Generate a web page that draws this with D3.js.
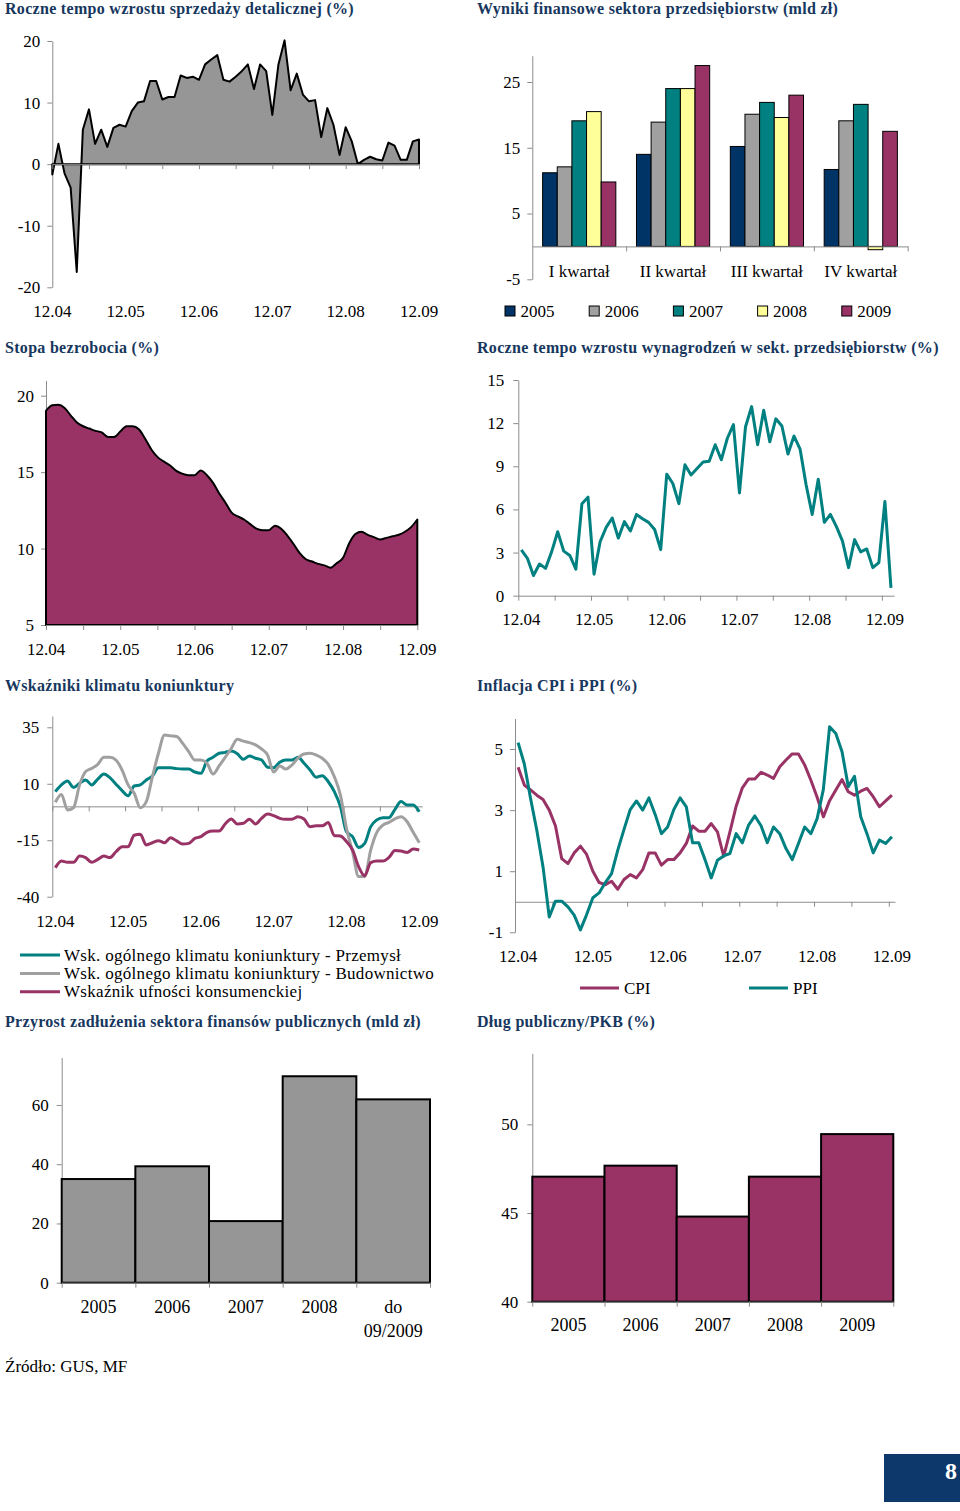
<!DOCTYPE html>
<html><head><meta charset="utf-8">
<script src="https://cdn.jsdelivr.net/npm/d3@7"></script>
<style>
body{margin:0;background:#fff;}
svg text{font-family:"Liberation Serif","Times New Roman",serif;}
</style></head><body>
<svg id="c" width="960" height="1511"></svg>
<script>
// ---------------- DATA ----------------
const monthLabels = ["12.04","12.05","12.06","12.07","12.08","12.09"];

const retailSales = [-1.7,3.3,-1.5,-3.8,-17.5,5.6,8.9,3.3,5.6,2.8,5.9,6.4,6.1,8.6,10,10.2,13.5,13.5,10.5,10.9,10.9,14.4,14,14.2,13.7,16.2,17,17.7,13.7,13.4,14.2,15.1,16.2,12.2,16.2,15.1,8,16.2,20.1,12,14.7,11.3,10.2,10.4,4.4,9.1,6.4,1.5,6,3.7,0,0.7,1.2,0.8,0.6,3.5,3,0.7,0.7,3.7,4];
const retailTicks = [-20,-10,0,10,20];

const finQuarters = ["I kwartał","II kwartał","III kwartał","IV kwartał"];
const finYears = ["2005","2006","2007","2008","2009"];
const fin2005 = [11.2,14.0,15.2,11.7];
const fin2006 = [12.1,18.9,20.1,19.1];
const fin2007 = [19.1,24.0,21.9,21.6];
const fin2008 = [20.5,24.0,19.6,-0.5];
const fin2009 = [9.8,27.5,23.0,17.5];
const finTicks = [-5,5,15,25];

const unemployment = [19.0,19.37,19.4,19.2,18.7,18.25,18.0,17.85,17.7,17.6,17.3,17.3,17.65,18.0,18.0,17.8,17.2,16.5,16.0,15.7,15.45,15.1,14.9,14.8,14.8,15.1,14.8,14.3,13.6,13.0,12.35,12.1,11.9,11.6,11.3,11.2,11.2,11.5,11.3,10.85,10.3,9.7,9.3,9.15,9.0,8.9,8.75,9.05,9.4,10.35,10.95,11.1,10.9,10.75,10.6,10.7,10.8,10.9,11.1,11.4,11.9];
const unemploymentTicks = [5,10,15,20];

const wages = [3.18,2.6,1.4,2.2,1.9,3.05,4.45,3.1,2.8,1.85,6.4,6.85,1.5,3.75,4.75,5.4,4.0,5.15,4.5,5.65,5.35,5.1,4.6,3.2,8.45,7.8,6.4,9.1,8.4,8.85,9.3,9.35,10.5,9.45,10.95,11.9,7.15,11.75,13.15,10.5,12.9,10.7,12.3,11.8,9.85,11.1,10.2,7.7,5.65,8.1,5.1,5.65,4.8,3.8,1.95,3.9,3.05,3.25,1.95,2.3,6.55,0.55];
const wagesTicks = [0,3,6,9,12,15];

const climateIndustry = [6.5,9.5,11.2,8.4,10.2,11.7,9.5,12.1,14.3,12.7,9.8,7.0,4.7,9.0,9.5,11.7,13.4,17.1,17.1,17.1,16.7,16.5,16.5,15.2,14.6,20.1,21.7,23.5,23.9,24.5,23.3,20.8,22.3,21.3,20.5,17.3,17.1,19.5,20.5,20.5,21.7,19.1,16.1,12.9,13.6,10.9,6.5,-0.1,-11.2,-13.4,-18.2,-16.4,-9.0,-6.0,-5.0,-5.0,-1.3,2.1,0.6,0.6,-2.4];
const climateConstruction = [1.8,5.3,-1.6,-0.6,9.5,15.4,16.8,18.6,21.7,21.7,20.5,16.1,9.5,5.8,-0.6,2.1,13.1,23.5,31.6,31.2,30.9,27.9,24.2,20.5,20.5,19.1,14.3,17.9,21.7,25.6,29.7,28.9,28.2,27.2,25.4,22.7,15.2,17.9,16.5,18.3,21.3,23.2,23.5,22.7,21.3,18.6,13.1,5.0,-9.7,-20.1,-31.1,-31.1,-19.3,-11.5,-8.3,-7.1,-5.5,-4.6,-6.8,-11.5,-16.1];
const consumerConfidence = [-27.2,-24.2,-24.8,-24.8,-22.0,-22.7,-24.8,-23.5,-22.0,-22.7,-20.1,-17.9,-17.9,-12.8,-12.4,-17.1,-16.1,-15.2,-16.1,-13.9,-15.3,-16.7,-16.4,-14.2,-13.4,-11.5,-10.9,-10.9,-7.8,-5.6,-7.8,-7.5,-5.7,-7.8,-5.3,-3.4,-4.1,-5.3,-5.7,-5.7,-4.6,-5.6,-9.0,-8.6,-8.6,-7.2,-13.0,-13.1,-15.6,-19.3,-26.7,-30.7,-24.9,-24.2,-24.2,-22.6,-19.6,-19.8,-20.4,-18.9,-19.3];
const climateTicks = [-40,-15,10,35];
const climateLegend = ["Wsk. ogólnego klimatu koniunktury - Przemysł","Wsk. ogólnego klimatu koniunktury - Budownictwo","Wskaźnik ufności konsumenckiej"];

const cpi = [4.4,3.82,3.66,3.49,3.35,3.0,2.48,1.41,1.25,1.6,1.82,1.55,1.0,0.63,0.56,0.67,0.41,0.73,0.89,0.78,1.05,1.6,1.6,1.2,1.38,1.38,1.6,1.91,2.48,2.31,2.31,2.56,2.29,1.49,2.29,3.13,3.73,4.02,4.02,4.24,4.15,4.04,4.42,4.64,4.84,4.84,4.48,3.98,3.42,2.78,3.31,3.66,4.0,3.6,3.49,3.62,3.71,3.44,3.11,3.3,3.49];
const ppi = [5.21,4.51,3.38,2.34,1.14,-0.5,0.02,0.02,-0.17,-0.44,-0.92,-0.42,0.13,0.29,0.63,0.92,1.69,2.37,3.02,3.3,3.0,3.4,2.86,2.23,2.45,3.02,3.4,3.11,1.93,1.93,1.38,0.78,1.36,1.5,1.58,2.23,1.93,2.51,2.81,2.49,1.93,2.45,2.23,1.74,1.38,1.91,2.45,2.23,2.72,3.68,5.73,5.51,4.91,3.77,4.11,2.78,2.23,1.6,2.02,1.91,2.13];
const inflationTicks = [-1,1,3,5];
const inflationLegend = ["CPI","PPI"];

const debtIncreaseCats = ["2005","2006","2007","2008","do 09/2009"];
const debtIncrease = [35.0,39.3,20.8,69.7,61.9];
const debtIncreaseTicks = [0,20,40,60];

const debtGdpYears = ["2005","2006","2007","2008","2009"];
const debtGdp = [47.05,47.67,44.8,47.05,49.45];
const debtGdpTicks = [40,45,50];

// ---------------- DRAWING ----------------
const FONT = '"Liberation Serif","Times New Roman",serif';
const FS = 17;
const TITLE = "#17375e", TEAL = "#008080", PLUM = "#993366", GRAY = "#969696", LGRAY = "#a0a0a0", NAVY = "#003366", YEL = "#ffff99";
const AX = "#8c8c8c";
const svg = d3.select("#c");
svg.append("rect").attr("width",960).attr("height",1511).attr("fill","#fff");

function title(x,y,t){
  svg.append("text").attr("x",x).attr("y",y).attr("font-size",16).attr("font-weight","bold")
    .attr("letter-spacing",0.3).attr("fill",TITLE).text(t);
}
function styleAxis(g){
  g.attr("font-family",FONT).attr("font-size",FS);
  g.select(".domain").attr("stroke",AX);
  g.selectAll(".tick line").attr("stroke",AX);
  g.selectAll(".tick text").attr("fill","#000");
  return g;
}
function yAxis(scale,x,ticks,pad){
  styleAxis(svg.append("g").attr("transform",`translate(${x},0)`)
    .call(d3.axisLeft(scale).tickValues(ticks).tickSize(5).tickSizeOuter(0).tickPadding(pad).tickFormat(d=>String(d))));
}
function xTicks(scale,y,ticks){
  styleAxis(svg.append("g").attr("transform",`translate(0,${y})`)
    .call(d3.axisBottom(scale).tickValues(ticks).tickSize(5).tickSizeOuter(0).tickFormat("")));
}
function xLabels(scale,pos,labels,y){
  svg.append("g").selectAll("text").data(labels).join("text")
    .attr("x",(d,k)=>scale(pos(k))).attr("y",y).attr("text-anchor","middle").attr("font-size",FS).attr("fill","#000").text(d=>d);
}
const sixMonth = d3.range(0,61,6);

// ---- Panel 1: retail sales
title(5,14,"Roczne tempo wzrostu sprzedaży detalicznej (%)");
{
  const x = d3.scaleLinear().domain([0,60]).range([52.3,419]);
  const y = d3.scaleLinear().domain([-20,20]).range([287.3,41]);
  yAxis(y,52.3,retailTicks,7);
  svg.append("path").datum(retailSales)
    .attr("d",d3.area().x((d,i)=>x(i)).y0(y(0)).y1(d=>y(d)))
    .attr("fill",GRAY).attr("stroke","#000").attr("stroke-width",2).attr("stroke-linejoin","round");
  xTicks(x,y(0),sixMonth);
  xLabels(x,k=>k*12,monthLabels,317);
}

// ---- Panel 2: financial results
title(477,14,"Wyniki finansowe sektora przedsiębiorstw (mld zł)");
{
  const series = [fin2005,fin2006,fin2007,fin2008,fin2009];
  const colors = [NAVY,LGRAY,TEAL,YEL,PLUM];
  const x0 = d3.scaleBand().domain(finQuarters).range([532.3,907.7]).paddingInner(0.22).paddingOuter(0.11);
  const x1 = d3.scaleBand().domain(finYears).range([0,x0.bandwidth()]);
  const y = d3.scaleLinear().domain([-5,29]).range([279.3,55.7]);
  yAxis(y,532.3,finTicks,7);
  finYears.forEach((yr,s)=>{
    svg.append("g").selectAll("rect").data(series[s]).join("rect")
      .attr("x",(d,q)=>x0(finQuarters[q])+x1(yr))
      .attr("y",d=>Math.min(y(d),y(0)))
      .attr("width",x1.bandwidth())
      .attr("height",d=>Math.abs(y(d)-y(0)))
      .attr("fill",colors[s]).attr("stroke","#000").attr("stroke-width",1);
  });
  const sep = d3.scaleLinear().domain([0,4]).range([532.3,907.7]);
  xTicks(sep,y(0),[1,2,3,4]);
  svg.append("g").selectAll("text").data(finQuarters).join("text")
    .attr("x",d=>x0(d)+x0.bandwidth()/2).attr("y",277).attr("text-anchor","middle")
    .attr("font-size",FS).text(d=>d);
  const lg = svg.append("g").selectAll("g").data(finYears).join("g")
    .attr("transform",(d,k)=>`translate(${505+k*84.2},306)`);
  lg.append("rect").attr("width",10).attr("height",10).attr("fill",(d,k)=>colors[k]).attr("stroke","#000").attr("stroke-width",1);
  lg.append("text").attr("x",15.5).attr("y",11).attr("font-size",FS).text(d=>d);
}

// ---- Panel 3: unemployment
title(5,353,"Stopa bezrobocia (%)");
{
  const x = d3.scaleLinear().domain([0,60]).range([46,417.3]);
  const y = d3.scaleLinear().domain([5,21]).range([625,380.4]);
  yAxis(y,46,unemploymentTicks,7);
  svg.append("path").datum(unemployment)
    .attr("d",d3.area().curve(d3.curveMonotoneX).x((d,i)=>x(i)).y0(y(5)).y1(d=>y(d)))
    .attr("fill",PLUM).attr("stroke","#000").attr("stroke-width",2).attr("stroke-linejoin","round");
  xTicks(x,y(5),sixMonth);
  xLabels(x,k=>k*12,monthLabels,655);
}

// ---- Panel 4: wages
title(477,353,"Roczne tempo wzrostu wynagrodzeń w sekt. przedsiębiorstw (%)");
{
  const x = d3.scaleLinear().domain([0,wages.length]).range([518.3,894]);
  const y = d3.scaleLinear().domain([0,15]).range([595.7,380]);
  yAxis(y,518.3,wagesTicks,9);
  xTicks(x,y(0),d3.range(0,wages.length+1,6));
  svg.append("path").datum(wages)
    .attr("d",d3.line().x((d,i)=>x(i+0.5)).y(d=>y(d)))
    .attr("fill","none").attr("stroke",TEAL).attr("stroke-width",3).attr("stroke-linejoin","round");
  xLabels(x,k=>k*12+0.5,monthLabels,625);
}

// ---- Panel 5: business climate
title(5,691,"Wskaźniki klimatu koniunktury");
{
  const n = climateIndustry.length;
  const x = d3.scaleLinear().domain([0,n]).range([52.3,422.3]);
  const y = d3.scaleLinear().domain([-40,40]).range([896.7,716]);
  yAxis(y,52.3,climateTicks,8);
  xTicks(x,y(0),d3.range(0,n+1,6));
  const line = d3.line().curve(d3.curveMonotoneX).x((d,i)=>x(i+0.5)).y(d=>y(d));
  const sers = [[climateIndustry,TEAL],[climateConstruction,LGRAY],[consumerConfidence,PLUM]];
  sers.forEach(([d,c])=>{
    svg.append("path").datum(d).attr("d",line).attr("fill","none").attr("stroke",c).attr("stroke-width",3).attr("stroke-linejoin","round");
  });
  xLabels(x,k=>k*12+0.5,monthLabels,927);
  const lg = svg.append("g").selectAll("g").data(climateLegend).join("g")
    .attr("transform",(d,k)=>`translate(20,${955+k*18.4})`);
  lg.append("line").attr("x1",0).attr("x2",40).attr("stroke",(d,k)=>sers[k][1]).attr("stroke-width",3);
  lg.append("text").attr("x",44).attr("y",5.5).attr("font-size",FS).attr("letter-spacing",0.3).text(d=>d);
}

// ---- Panel 6: inflation
title(477,691,"Inflacja CPI i PPI (%)");
{
  const n = cpi.length;
  const x = d3.scaleLinear().domain([0,n]).range([515,895]);
  const y = d3.scaleLinear().domain([-1,6]).range([932.3,718.5]);
  yAxis(y,515,inflationTicks,7);
  xTicks(x,y(0),d3.range(0,n+1,6));
  const line = d3.line().x((d,i)=>x(i+0.5)).y(d=>y(d));
  const sers = [[cpi,PLUM],[ppi,TEAL]];
  sers.forEach(([d,c])=>{
    svg.append("path").datum(d).attr("d",line).attr("fill","none").attr("stroke",c).attr("stroke-width",3).attr("stroke-linejoin","round");
  });
  xLabels(x,k=>k*12+0.5,monthLabels,962);
  const lg = svg.append("g").selectAll("g").data(inflationLegend).join("g")
    .attr("transform",(d,k)=>`translate(${580+k*169},988)`);
  lg.append("line").attr("x1",0).attr("x2",39).attr("stroke",(d,k)=>sers[k][1]).attr("stroke-width",3);
  lg.append("text").attr("x",44).attr("y",5.5).attr("font-size",FS).text(d=>d);
}

// ---- Panel 7: public debt increase
title(5,1027,"Przyrost zadłużenia sektora finansów publicznych (mld zł)");
{
  const x = d3.scaleBand().domain(debtIncreaseCats).range([61.7,430]);
  const y = d3.scaleLinear().domain([0,76]).range([1282.7,1057.6]);
  yAxis(y,61.7,debtIncreaseTicks,8);
  svg.append("g").selectAll("rect").data(debtIncrease).join("rect")
    .attr("x",(d,i)=>x(debtIncreaseCats[i])).attr("y",d=>y(d))
    .attr("width",x.bandwidth()).attr("height",d=>y(0)-y(d))
    .attr("fill",GRAY).attr("stroke","#000").attr("stroke-width",2);
  const sep = d3.scaleLinear().domain([0,5]).range([61.7,430]);
  xTicks(sep,y(0),[0,1,2,3,4,5]);
  const t = svg.append("g").selectAll("text").data(debtIncreaseCats).join("text")
    .attr("x",d=>x(d)+x.bandwidth()/2).attr("y",1313).attr("text-anchor","middle").attr("font-size",18);
  t.each(function(d){
    const parts = d.split(" ");
    const el = d3.select(this);
    parts.forEach((p,k)=>el.append("tspan").attr("x",x(d)+x.bandwidth()/2).attr("dy",k?23.7:0).text(p));
  });
}

// ---- Panel 8: debt / GDP
title(477,1027,"Dług publiczny/PKB (%)");
{
  const x = d3.scaleBand().domain(debtGdpYears).range([532.3,893.3]);
  const y = d3.scaleLinear().domain([40,54]).range([1301.7,1053.4]);
  yAxis(y,532.3,debtGdpTicks,9);
  svg.append("g").selectAll("rect").data(debtGdp).join("rect")
    .attr("x",(d,i)=>x(debtGdpYears[i])).attr("y",d=>y(d))
    .attr("width",x.bandwidth()).attr("height",d=>y(40)-y(d))
    .attr("fill",PLUM).attr("stroke","#000").attr("stroke-width",2);
  const sep = d3.scaleLinear().domain([0,5]).range([532.3,893.3]);
  xTicks(sep,y(40),[0,1,2,3,4,5]);
  svg.append("g").selectAll("text").data(debtGdpYears).join("text")
    .attr("x",d=>x(d)+x.bandwidth()/2).attr("y",1331).attr("text-anchor","middle").attr("font-size",18).text(d=>d);
}

// ---- Source & page number
svg.append("text").attr("x",5).attr("y",1372).attr("font-size",FS).text("Źródło: GUS, MF");
svg.append("rect").attr("x",884).attr("y",1454).attr("width",76).attr("height",48).attr("fill","#0c386b");
svg.append("text").attr("x",957).attr("y",1479).attr("text-anchor","end").attr("font-size",24).attr("font-weight","bold").attr("fill","#fff").text("8");
</script>
</body></html>
